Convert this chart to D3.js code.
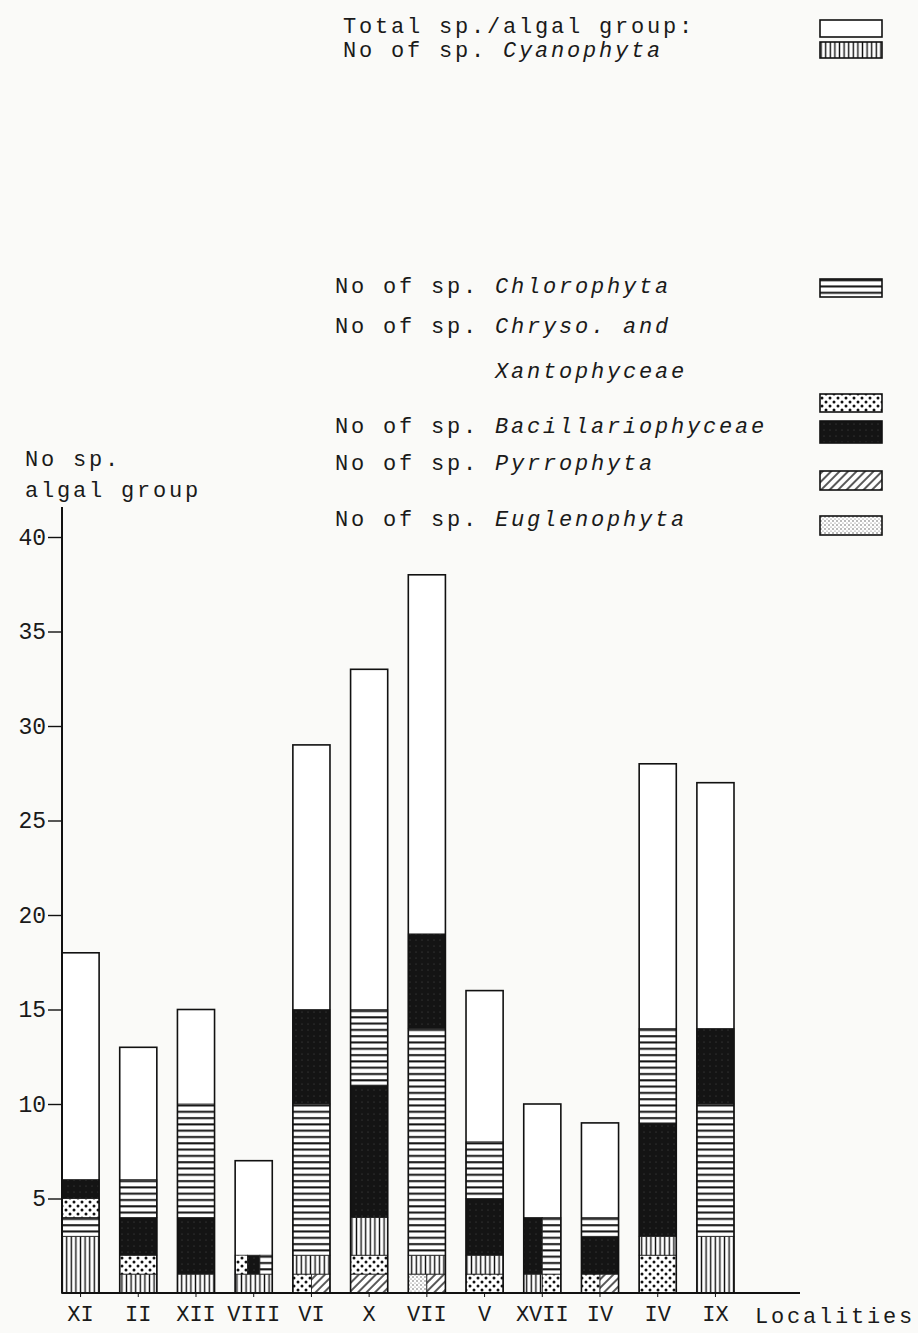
<!DOCTYPE html>
<html>
<head>
<meta charset="utf-8">
<script src="https://cdn.jsdelivr.net/npm/d3@7"></script>
<style>
  body { margin: 0; background: #fafaf8; }
  text { font-family: "Liberation Mono", "DejaVu Sans Mono", monospace; fill: #1a1a1a; }
</style>
</head>
<body>
<div id="chart"></div>
<script>
// localities along the x axis (IV appears twice in the original figure)
const localities = ["XI", "II", "XII", "VIII", "VI", "X", "VII", "V", "XVII", "IV", "IV", "IX"];
// total number of species per locality
const totals = [18, 13, 15, 7, 29, 33, 38, 16, 10, 9, 28, 27];

const groupKeys = ["cya", "chl", "chr", "bac", "pyr", "eug"];
const groupNames = ["Cyanophyta", "Chlorophyta", "Chryso. and Xantophyceae", "Bacillariophyceae", "Pyrrophyta", "Euglenophyta"];

// stacked layers per locality, bottom to top: [no. of species, groups sharing that layer side by side]
const layers = [
    [[3, "cya"], [1, "chl"], [1, "chr"], [1, "bac"]],
    [[1, "cya"], [1, "chr"], [2, "bac"], [2, "chl"]],
    [[1, "cya"], [3, "bac"], [6, "chl"]],
    [[1, "cya"], [1, "chr", "bac", "chl"]],
    [[1, "chr", "pyr"], [1, "cya"], [8, "chl"], [5, "bac"]],
    [[1, "pyr"], [1, "chr"], [2, "cya"], [7, "bac"], [4, "chl"]],
    [[1, "eug", "pyr"], [1, "cya"], [12, "chl"], [5, "bac"]],
    [[1, "chr"], [1, "cya"], [3, "bac"], [3, "chl"]],
    [[1, "cya", "chr"], [3, "bac", "chl"]],
    [[1, "chr", "pyr"], [2, "bac"], [1, "chl"]],
    [[2, "chr"], [1, "cya"], [6, "bac"], [5, "chl"]],
    [[3, "cya"], [7, "chl"], [4, "bac"]]
];

const yTicks = [5, 10, 15, 20, 25, 30, 35, 40];

// page setup
const W = 918, H = 1333;
const svg = d3.select("#chart").append("svg")
    .attr("width", W)
    .attr("height", H);

svg.append("rect").attr("width", W).attr("height", H).attr("fill", "#fafaf8");

// hatch patterns standing in for the printed fills
const defs = svg.append("defs");

function pattern(id, w, h) {
    const p = defs.append("pattern")
        .attr("id", id)
        .attr("patternUnits", "userSpaceOnUse")
        .attr("width", w)
        .attr("height", h);
    return p;
}

let p = pattern("pat-cya", 4.6, 10);
p.append("rect").attr("width", 4.6).attr("height", 10).attr("fill", "#fff");
p.append("line").attr("x1", 2.3).attr("x2", 2.3).attr("y1", 0).attr("y2", 10)
    .attr("stroke", "#111").attr("stroke-width", 1.4);

p = pattern("pat-chl", 10, 6.3);
p.append("rect").attr("width", 10).attr("height", 6.3).attr("fill", "#fff");
p.append("line").attr("x1", 0).attr("x2", 10).attr("y1", 3).attr("y2", 3)
    .attr("stroke", "#111").attr("stroke-width", 2);

p = pattern("pat-chr", 8, 8);
p.append("rect").attr("width", 8).attr("height", 8).attr("fill", "#fff");
p.append("circle").attr("cx", 2).attr("cy", 2).attr("r", 1.5).attr("fill", "#111");
p.append("circle").attr("cx", 6).attr("cy", 6).attr("r", 1.5).attr("fill", "#111");

p = pattern("pat-bac", 6, 6);
p.append("rect").attr("width", 6).attr("height", 6).attr("fill", "#141414");
p.append("circle").attr("cx", 2).attr("cy", 4).attr("r", 0.5).attr("fill", "#555");

p = pattern("pat-pyr", 6, 6).attr("patternTransform", "rotate(45)");
p.append("rect").attr("width", 6).attr("height", 6).attr("fill", "#fff");
p.append("line").attr("x1", 3).attr("x2", 3).attr("y1", 0).attr("y2", 6)
    .attr("stroke", "#111").attr("stroke-width", 1.4);

p = pattern("pat-eug", 4, 4);
p.append("rect").attr("width", 4).attr("height", 4).attr("fill", "#fff");
p.append("circle").attr("cx", 1).attr("cy", 1).attr("r", 0.7).attr("fill", "#444");
p.append("circle").attr("cx", 3).attr("cy", 3).attr("r", 0.6).attr("fill", "#666");

// scales -- first bar sits right on the y axis
const x = d3.scaleBand()
    .domain(d3.range(localities.length))
    .range([62, 734])
    .paddingInner(0.357)
    .paddingOuter(0);

const y = d3.scaleLinear()
    .domain([0, 40])
    .range([1293, 537]);

const font = {size: "22px", spacing: "2.8px"};

// bars
const bars = svg.append("g");
localities.forEach((loc, i) => {
    const g = bars.append("g");
    g.append("rect")
        .attr("x", x(i))
        .attr("y", y(totals[i]))
        .attr("width", x.bandwidth())
        .attr("height", y(0) - y(totals[i]))
        .attr("fill", "#fff");

    let base = 0;
    layers[i].forEach(([n, ...gs]) => {
        const sub = d3.scaleBand().domain(gs).range([x(i), x(i) + x.bandwidth()]);
        gs.forEach(k => {
            g.append("rect")
                .attr("x", sub(k))
                .attr("y", y(base + n))
                .attr("width", sub.bandwidth())
                .attr("height", y(base) - y(base + n))
                .attr("fill", `url(#pat-${k})`)
                .attr("stroke", "#222")
                .attr("stroke-width", 0.8);
        });
        base += n;
    });

    g.append("rect")
        .attr("x", x(i))
        .attr("y", y(totals[i]))
        .attr("width", x.bandwidth())
        .attr("height", y(0) - y(totals[i]))
        .attr("fill", "none")
        .attr("stroke", "#111")
        .attr("stroke-width", 1.6);
});

// y axis: ticks on the left, line extends a bit above 40
const yAxis = svg.append("g")
    .attr("transform", "translate(62,0)")
    .call(d3.axisLeft(y).tickValues(yTicks).tickSize(14).tickPadding(2));
yAxis.select(".domain").remove();
yAxis.selectAll("line").attr("stroke", "#111").attr("stroke-width", 1.4);
yAxis.selectAll("text")
    .style("font-size", "23px")
    .attr("fill", "#1a1a1a");

svg.append("line")
    .attr("x1", 62).attr("x2", 62)
    .attr("y1", 507).attr("y2", y(0))
    .attr("stroke", "#111").attr("stroke-width", 2);

// x axis
const xAxis = svg.append("g")
    .attr("transform", `translate(0,${y(0)})`)
    .call(d3.axisBottom(x).tickFormat(i => localities[i]).tickSize(4).tickPadding(8));
xAxis.select(".domain").remove();
xAxis.selectAll("line").attr("stroke", "#111");
xAxis.selectAll("text")
    .style("font-size", font.size)
    .attr("fill", "#1a1a1a");

svg.append("line")
    .attr("x1", 62).attr("x2", 800)
    .attr("y1", y(0)).attr("y2", y(0))
    .attr("stroke", "#111").attr("stroke-width", 2);

svg.append("text")
    .attr("x", 755).attr("y", 1323)
    .style("font-size", font.size)
    .style("letter-spacing", font.spacing)
    .text("Localities");

// y axis title
[["No sp.", 466], ["algal group", 497]].forEach(([t, yy]) => {
    svg.append("text")
        .attr("x", 25).attr("y", yy)
        .style("font-size", font.size)
        .style("letter-spacing", font.spacing)
        .text(t);
});

// legend
const legendRows = [
    {x: 343, y: 33, plain: "Total sp./algal group:", name: ""},
    {x: 343, y: 57, plain: "No of sp. ", name: groupNames[0]},
    {x: 335, y: 293, plain: "No of sp. ", name: groupNames[1]},
    {x: 335, y: 333, plain: "No of sp. ", name: "Chryso. and"},
    {x: 335, y: 378, plain: "          ", name: "Xantophyceae"},
    {x: 335, y: 433, plain: "No of sp. ", name: groupNames[3]},
    {x: 335, y: 470, plain: "No of sp. ", name: groupNames[4]},
    {x: 335, y: 526, plain: "No of sp. ", name: groupNames[5]}
];

legendRows.forEach(r => {
    const t = svg.append("text")
        .attr("x", r.x).attr("y", r.y)
        .attr("xml:space", "preserve")
        .style("white-space", "pre")
        .style("font-size", font.size)
        .style("letter-spacing", font.spacing);
    t.append("tspan").text(r.plain);
    if (r.name) t.append("tspan").style("font-style", "italic").text(r.name);
});

const legendBoxes = [
    {k: "total", y: 20, h: 17},
    {k: "cya", y: 42, h: 16},
    {k: "chl", y: 279, h: 18},
    {k: "chr", y: 394, h: 18},
    {k: "bac", y: 421, h: 22},
    {k: "pyr", y: 471, h: 19},
    {k: "eug", y: 516, h: 19}
];

legendBoxes.forEach(b => {
    svg.append("rect")
        .attr("x", 820).attr("y", b.y)
        .attr("width", 62).attr("height", b.h)
        .attr("fill", b.k === "total" ? "#fff" : `url(#pat-${b.k})`)
        .attr("stroke", "#111")
        .attr("stroke-width", 1.6);
});
</script>
</body>
</html>
